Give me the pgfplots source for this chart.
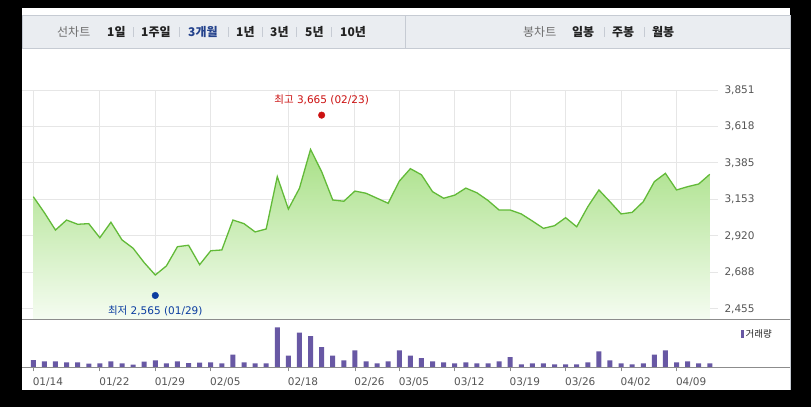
\documentclass[border=0pt]{standalone}
\usepackage{fontspec}
\setmainfont{DejaVu Sans}
\newfontfamily\kr{Noto Sans CJK KR}
\usepackage{pgfplots}
\pgfplotsset{compat=1.18}
\usepackage{pgfplotstable}

\definecolor{gridc}{RGB}{230,230,230}
\definecolor{linec}{RGB}{98,186,56}
\definecolor{filltop}{RGB}{168,224,134}
\definecolor{fillbot}{RGB}{245,252,241}
\definecolor{volc}{RGB}{104,88,164}
\definecolor{tabbg}{RGB}{234,237,241}
\definecolor{tabborder}{RGB}{198,203,211}
\definecolor{tabgray}{RGB}{110,110,110}
\definecolor{tabblack}{RGB}{34,34,34}
\definecolor{navy}{RGB}{36,66,140}
\definecolor{redc}{RGB}{204,17,17}
\definecolor{bluec}{RGB}{10,60,160}
\definecolor{labelc}{RGB}{85,85,85}
\definecolor{axisc}{RGB}{140,140,140}

% i = trading day, c = close, v = volume (bar height, arbitrary units)
\pgfplotstableread{
i c v
0 3170 7.3
1 3068 6
2 2957 6
3 3021 5
4 2994 5
5 2998 3.7
6 2908 4
7 3007 6
8 2894 4
9 2841 2.7
10 2749 5.7
11 2670 7
12 2728 4
13 2851 6
14 2860 4.3
15 2736 4.7
16 2825 5
17 2830 4
18 3021 12.7
19 2998 5
20 2945 4
21 2964 4
22 3298 40
23 3091 11.7
24 3224 34.7
25 3472 31.3
26 3330 20.3
27 3149 11.7
28 3141 7
29 3206 17
30 3192 6
31 3160 4
32 3128 6
33 3269 17
34 3349 11.7
35 3310 9.3
36 3202 6
37 3160 5
38 3180 4
39 3225 5
40 3195 4
41 3146 4
42 3085 6
43 3085 10.3
44 3060 3
45 3015 4
46 2968 4
47 2985 3
48 3036 3
49 2978 3
50 3106 5
51 3213 16
52 3138 7
53 3060 4
54 3070 3
55 3138 4
56 3266 12.7
57 3319 17
58 3213 5
59 3234 6
60 3251 4
61 3313 4
}\stock

\tikzset{
  tab/.style={anchor=west, inner sep=0pt, font=\kr\fontsize{12}{14}\selectfont\bfseries, text=tabblack},
  tabl/.style={anchor=west, inner sep=0pt, font=\kr\fontsize{12}{14}\selectfont, text=tabgray},
  sep/.style={draw=tabborder, line width=0.6pt}
}

\begin{document}
\begin{tikzpicture}[x=1pt,y=1pt]
\fill[black] (0,0) rectangle (811,-407);
\fill[white] (22,-8) rectangle (790,-15);
\filldraw[fill=tabbg, draw=tabborder] (22,-15) rectangle (790,-48);
\draw[tabborder] (405,-15) -- (405,-48);
\fill[white] (22,-48.5) rectangle (790,-390);
\draw[tabborder] (790,-48) -- (790,-390);

% tabs
\node[tabl] at (57,-32) {선차트};
\node[tab] at (107,-32) {1일};
\node[tab] at (141,-32) {1주일};
\node[tab, text=navy] at (188,-32) {3개월};
\node[tab] at (236,-32) {1년};
\node[tab] at (270,-32) {3년};
\node[tab] at (305,-32) {5년};
\node[tab] at (340,-32) {10년};
\foreach \s in {133,179,228,262,296.5,331.5,604,644}
  \draw[sep] (\s,-27) -- (\s,-37);
\node[tabl] at (523,-32) {봉차트};
\node[tab] at (572,-32) {일봉};
\node[tab] at (612,-32) {주봉};
\node[tab] at (652,-32) {월봉};

% price
\begin{axis}[
  at={(22pt,-319.3pt)}, anchor=south west, scale only axis,
  width=696pt, height=229.3pt,
  xmin=-1.019, xmax=61.74, ymin=2387.4, ymax=3851,
  axis line style={draw=none},
  grid=major, grid style={gridc, line width=0.9pt},
  major tick style={draw=none},
  xtick={0,6,11,16,23,29,33,38,43,48,53,58}, xticklabels={},
  ytick={2455,2687.67,2920.33,3153,3385.67,3618.33,3851},
  yticklabels={{2,455},{2,688},{2,920},{3,153},{3,385},{3,618},{3,851}},
  yticklabel pos=right,
  yticklabel style={font=\fontsize{10.5}{12}\selectfont, text=labelc, xshift=3pt},
  clip=false,
]
\addplot[draw=none, top color=filltop, bottom color=fillbot]
  table[x=i,y=c]{\stock} -- (axis cs:61,2387.4) -- (axis cs:0,2387.4) -- cycle;
\addplot[linec, line width=1.3pt] table[x=i,y=c]{\stock};
\addplot[only marks, mark=*, mark size=3.3pt, redc, mark options={yshift=4pt},
  nodes near coords={{\kr 최고}\ 3,665 (02/23)},
  every node near coord/.append style={anchor=south, inner sep=0pt, yshift=10pt,
    text=redc, font=\fontsize{10.5}{12}\selectfont}]
  coordinates {(26,3665)};
\addplot[only marks, mark=*, mark size=3.3pt, bluec, mark options={yshift=-4pt},
  nodes near coords={{\kr 최저}\ 2,565 (01/29)},
  every node near coord/.append style={anchor=north, inner sep=0pt, yshift=-10pt,
    text=bluec, font=\fontsize{10.5}{12}\selectfont}]
  coordinates {(11,2565)};
\end{axis}

% volume
\begin{axis}[
  at={(22pt,-367.3pt)}, anchor=south west, scale only axis,
  width=696pt, height=47.3pt,
  xmin=-1.019, xmax=61.74, ymin=0, ymax=47.3,
  axis line style={draw=none},
  ytick=\empty,
  xtick={0,6,11,16,23,29,33,38,43,48,53,58},
  xticklabels={01/14,01/22,01/29,02/05,02/18,02/26,03/05,03/12,03/19,03/26,04/02,04/09},
  tick pos=left, xtick align=outside, major tick length=4pt,
  major tick style={axisc, line width=0.7pt},
  xticklabel style={font=\fontsize{10.5}{12}\selectfont, text=labelc,
    anchor=north west, inner sep=0pt, xshift=-0.7pt, yshift=-6pt},
  clip=false,
]
\addplot[ybar, bar width=5pt, fill=volc, draw=none] table[x=i,y=v]{\stock};
\end{axis}

\draw[axisc, line width=1.2pt] (22,-319.3) -- (790,-319.3);
\draw[axisc, line width=1pt] (22,-367.3) -- (790,-367.3);
\fill[volc] (741,-330) rectangle (743.5,-337.5);
\node[anchor=west, inner sep=0pt, text=tabblack, font=\kr\fontsize{9.5}{11}\selectfont] at (745.5,-334) {거래량};
\end{tikzpicture}
\end{document}
